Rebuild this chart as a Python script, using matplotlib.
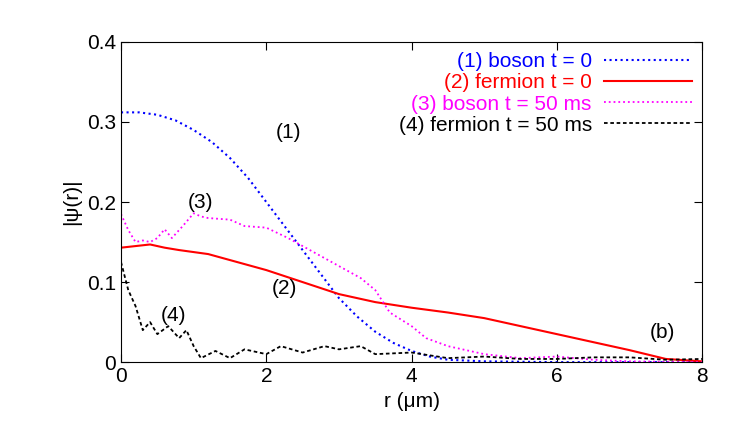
import matplotlib
matplotlib.use("Agg")
import matplotlib.pyplot as plt

plt.rcParams["font.family"] = "Liberation Sans"

r1 = [0, 0.25, 0.5, 0.75, 1.0, 1.25, 1.5, 1.75, 2.0, 2.25, 2.5, 2.75, 3.0, 3.25, 3.5, 3.75, 4.0, 4.25, 4.5, 5.0, 6.0, 8.0]
psi1 = [0.312, 0.312, 0.309, 0.302, 0.29, 0.275, 0.255, 0.23, 0.2, 0.17, 0.14, 0.11, 0.08, 0.057, 0.038, 0.024, 0.014, 0.007, 0.003, 0.001, 0.0, 0.0]

r2 = [0, 0.2, 0.4, 0.6, 0.8, 1.2, 1.6, 2.0, 2.5, 3.0, 3.5, 4.0, 4.5, 5.0, 5.5, 6.0, 6.5, 7.0, 7.5, 8.0]
psi2 = [0.143, 0.145, 0.147, 0.143, 0.14, 0.135, 0.125, 0.115, 0.1, 0.085, 0.075, 0.068, 0.062, 0.055, 0.045, 0.035, 0.025, 0.015, 0.004, 0.001]

r3 = [0, 0.1, 0.2, 0.3, 0.4, 0.5, 0.6, 0.7, 0.85, 1.0, 1.1, 1.2, 1.5, 1.7, 2.0, 2.3, 2.6, 3.0, 3.3, 3.5, 3.7, 4.0, 4.2, 4.5, 5.0, 5.5, 6.0, 6.5, 7.0, 8.0]
psi3 = [0.185, 0.165, 0.15, 0.152, 0.15, 0.155, 0.166, 0.155, 0.17, 0.186, 0.182, 0.18, 0.178, 0.17, 0.168, 0.155, 0.14, 0.12, 0.105, 0.09, 0.062, 0.045, 0.03, 0.02, 0.01, 0.005, 0.007, 0.003, 0.001, 0.0]

r4 = [0, 0.1, 0.2, 0.3, 0.4, 0.5, 0.65, 0.8, 0.9, 1.0, 1.1, 1.3, 1.5, 1.7, 2.0, 2.2, 2.5, 2.8, 3.0, 3.3, 3.5, 4.0, 4.5, 5.0, 5.5, 6.0, 6.5, 7.0, 7.5, 8.0]
psi4 = [0.125, 0.09, 0.07, 0.04, 0.05, 0.035, 0.045, 0.03, 0.04, 0.02, 0.005, 0.014, 0.005, 0.016, 0.01, 0.02, 0.012, 0.02, 0.016, 0.02, 0.01, 0.012, 0.005, 0.007, 0.004, 0.004, 0.006, 0.006, 0.003, 0.004]

labels = ["(1) boson t = 0", "(2) fermion t = 0", "(3) boson t = 50 ms", "(4) fermion t = 50 ms"]
colors = ["#0000ff", "#ff0000", "#ff00ff", "#000000"]

fig = plt.figure(figsize=(7.47, 4.46), dpi=100)
ax = fig.add_axes([0.162, 0.188, 0.778, 0.718])
ax.plot(r1, psi1, ":", color=colors[0], lw=1.5, label=labels[0])
ax.plot(r2, psi2, "-", color=colors[1], lw=1.5, label=labels[1])
ax.plot(r3, psi3, ":", color=colors[2], lw=1.3, label=labels[2])
ax.plot(r4, psi4, color=colors[3], lw=1.3, linestyle=(0, (2, 1.5)), label=labels[3])
ax.set_xlim(0, 8)
ax.set_ylim(0, 0.4)
ax.set_xticks([0, 2, 4, 6, 8])
ax.set_yticks([0, 0.1, 0.2, 0.3, 0.4])
ax.set_yticklabels(["0", "0.1", "0.2", "0.3", "0.4"])
ax.tick_params(labelsize=15, direction="in", top=True, right=True, length=6)
ax.set_xlabel("r (μm)", fontsize=15)
ax.set_ylabel("|ψ(r)|", fontsize=15)
leg = ax.legend(loc="upper right", frameon=False, markerfirst=False, fontsize=15,
                labelcolor="linecolor", handlelength=4.2, borderaxespad=0.1,
                labelspacing=0.1, handletextpad=0.6)
for t in leg.get_texts():
    t.set_ha("right")
ax.text(2.3, 0.28, "(1)", fontsize=15, ha="center")
ax.text(2.25, 0.085, "(2)", fontsize=15, ha="center")
ax.text(1.1, 0.193, "(3)", fontsize=15, ha="center")
ax.text(0.72, 0.052, "(4)", fontsize=15, ha="center")
ax.text(7.45, 0.03, "(b)", fontsize=15, ha="center")
fig.savefig("out.png", dpi=100)
